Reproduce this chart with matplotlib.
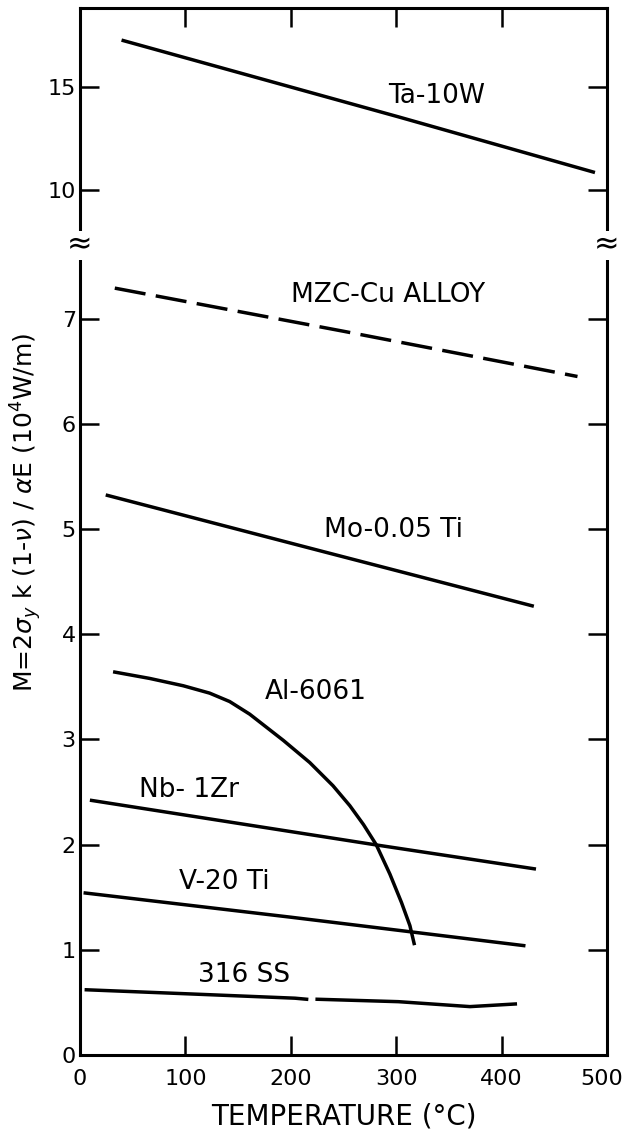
import numpy as np
import matplotlib.pyplot as plt
from matplotlib.transforms import ScaledTranslation

# values: temperature (C) vs M (10^4 W/m)
ta_t = [41, 302, 487]
ta_m = [17.25, 13.55, 10.87]

mzc_t = [33, 250, 472]
mzc_m = [7.29, 6.88, 6.45]

mo_t = [26, 229, 429]
mo_m = [5.32, 4.79, 4.27]

al_t = [33, 66, 98, 123, 142, 161, 193, 218, 240, 256, 269, 281, 294, 305, 313, 317]
al_m = [3.64, 3.58, 3.51, 3.44, 3.36, 3.24, 2.99, 2.78, 2.56, 2.37, 2.19, 2.00, 1.72, 1.45, 1.23, 1.06]

nb_t = [11, 279, 431]
nb_m = [2.42, 2.00, 1.77]

v_t = [5, 200, 421]
v_m = [1.54, 1.31, 1.04]

ss_t = [6, 106, 204, 215, np.nan, 225, 302, 370, 413]
ss_m = [0.62, 0.58, 0.54, 0.53, np.nan, 0.53, 0.507, 0.46, 0.485]

labels = ["Ta-10W", "MZC-Cu ALLOY", "Mo-0.05 Ti", "Al-6061", "Nb- 1Zr", "V-20 Ti", "316 SS"]
label_t = [338, 292, 297, 224, 103, 137, 156]
label_m = [14.56, 7.22, 4.99, 3.45, 2.52, 1.64, 0.76]

lower_ticks = [0, 1, 2, 3, 4, 5, 6, 7]
upper_ticks = [10, 15]
x_ticks = [0, 100, 200, 300, 400, 500]

plt.rcParams['font.family'] = ['DejaVu Sans']
LW = 2.5

fig = plt.figure(figsize=(6.27, 11.33), dpi=100)
left, width = 80 / 627, 527 / 627
y_break = 1 - 245 / 1133
y_bot = 1 - 1055 / 1133
y_top = 1 - 8 / 1133

ax = fig.add_axes([left, y_bot, width, y_break - y_bot])
axu = fig.add_axes([left, y_break, width, y_top - y_break])

for a in (ax, axu):
    a.set_xlim(0, 500)
    for s in a.spines.values():
        s.set_linewidth(2.2)
    a.tick_params(direction='in', length=14, width=1.8, labelsize=16,
                  left=True, right=True, top=True, bottom=True)
    a.tick_params(axis='y', pad=3)
    a.tick_params(axis='x', pad=10)

ax.spines['top'].set_visible(False)
axu.spines['bottom'].set_visible(False)

ax.set_ylim(0, 7.70)
ax.set_yticks(lower_ticks)
ax.set_xticks(x_ticks)
ax.tick_params(top=False)
axu.set_ylim(7.33, 18.83)
axu.set_yticks(upper_ticks)
axu.set_xticks([100, 200, 300, 400])
axu.tick_params(bottom=False, labelbottom=False)

# nudge the last x label inside the figure like the original
last = ax.get_xticklabels()[-1]
last.set_transform(last.get_transform() + ScaledTranslation(-5 / 100, 0, fig.dpi_scale_trans))

axu.plot(ta_t, ta_m, 'k-', lw=LW)
ax.plot(mzc_t, mzc_m, 'k-', lw=LW, dashes=(9, 3))
ax.plot(mo_t, mo_m, 'k-', lw=LW)
ax.plot(al_t, al_m, 'k-', lw=LW)
ax.plot(nb_t, nb_m, 'k-', lw=LW)
ax.plot(v_t, v_m, 'k-', lw=LW)
ax.plot(ss_t, ss_m, 'k-', lw=LW)

axu.text(label_t[0], label_m[0], labels[0], ha='center', va='center', fontsize=19)
for name, t, m in zip(labels[1:], label_t[1:], label_m[1:]):
    ax.text(t, m, name, ha='center', va='center', fontsize=19)

ax.set_xlabel('TEMPERATURE (°C)', fontsize=20, labelpad=10)
fig.text(0.042, 1 - 512 / 1133,
         r'M=2$\sigma_y$ k (1-$\nu$) / $\alpha$E (10$^4$W/m)',
         rotation=90, ha='center', va='center', fontsize=18)

# axis break marks
for xb in (left, left + width):
    fig.text(xb, y_break, '≈', ha='center', va='center', fontsize=22,
             bbox=dict(facecolor='white', edgecolor='none', pad=0))

fig.savefig('out.png', dpi=100)
